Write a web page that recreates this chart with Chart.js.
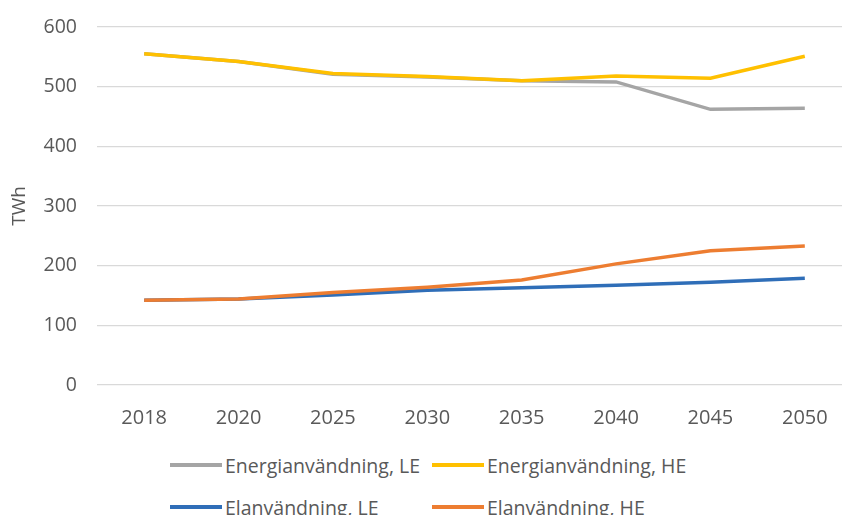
<!DOCTYPE html>
<html>
<head>
<meta charset="utf-8">
<script src="https://cdn.jsdelivr.net/npm/chart.js@4"></script>
<style>
  html, body { margin: 0; padding: 0; background: #fff; overflow: hidden; }
  body { width: 842px; height: 515px; position: relative; }
  #wrap { position: absolute; left: 0; top: 0; width: 862px; height: 430px; }
  #legend { position: absolute; left: 170px; top: 444px; font-family: "Open Sans", sans-serif; font-size: 19.5px; color: #595959; }
  .row { display: flex; height: 42px; align-items: center; }
  .item { display: flex; align-items: center; width: 262px; }
  .swatch { width: 52px; height: 4px; margin-right: 3px; }
</style>
</head>
<body>
<div id="wrap"><canvas id="chart"></canvas></div>
<div id="legend"></div>
<script>
// years on the x axis
const years = ["2018", "2020", "2025", "2030", "2035", "2040", "2045", "2050"];

// TWh per scenario
const energiLE = [555, 542, 521, 516, 510, 508, 462, 464];
const energiHE = [555, 542, 522, 517, 510, 518, 514, 551];
const elLE = [142, 144, 151, 159, 163, 167, 172, 179];
const elHE = [142, 144, 155, 164, 176, 203, 225, 233];

const seriesNames = ["Energianvändning, LE", "Energianvändning, HE", "Elanvändning, LE", "Elanvändning, HE"];
const seriesColors = ["#A5A5A5", "#FFC000", "#2F6EB8", "#ED7D31"];
// lower order is drawn on top: HE lines cover the LE lines where they overlap
const seriesOrder = [2, 1, 4, 3];

const textColor = "#595959";
const fontFamily = "'Open Sans', sans-serif";

function line(i, data) {
  return {
    label: seriesNames[i],
    data: data,
    order: seriesOrder[i],
    borderColor: seriesColors[i],
    backgroundColor: seriesColors[i],
    borderWidth: 3.5,
    pointRadius: 0,
    tension: 0,
    fill: false,
  };
}

// legend laid out in two fixed columns
function buildLegend(chart) {
  const box = document.getElementById("legend");
  box.innerHTML = "";
  const rows = [[0, 1], [2, 3]];
  rows.forEach((pair) => {
    const row = document.createElement("div");
    row.className = "row";
    pair.forEach((i) => {
      const ds = chart.data.datasets[i];
      const item = document.createElement("div");
      item.className = "item";
      const sw = document.createElement("span");
      sw.className = "swatch";
      sw.style.background = ds.borderColor;
      const txt = document.createElement("span");
      txt.textContent = ds.label;
      item.appendChild(sw);
      item.appendChild(txt);
      row.appendChild(item);
    });
    box.appendChild(row);
  });
}

let ctx = document.getElementById("chart");
let chart = new Chart(ctx, {
  type: "line",
  data: {
    labels: years,
    datasets: [line(0, energiLE), line(1, energiHE), line(2, elLE), line(3, elHE)],
  },
  options: {
    responsive: true,
    maintainAspectRatio: false,
    animation: false,
    layout: { padding: { top: 27, right: 10, left: 0, bottom: 0 } },
    plugins: {
      legend: { display: false },
      tooltip: { enabled: false },
    },
    scales: {
      x: {
        offset: true,
        grid: { display: false },
        border: { display: false },
        ticks: { color: textColor, font: { family: fontFamily, size: 20 }, padding: 13, maxRotation: 0 },
        afterFit: (scale) => { scale.height = 45; },
      },
      y: {
        min: 0,
        max: 600,
        ticks: { stepSize: 100, color: textColor, font: { family: fontFamily, size: 19.5 }, padding: 4 },
        // invisible tick marks push the labels away from the plot
        grid: { color: "#D9D9D9", lineWidth: 1.3, drawTicks: true, tickLength: 16, tickColor: "rgba(0,0,0,0)" },
        border: { display: false },
        title: {
          display: true,
          text: "TWh",
          color: textColor,
          font: { family: fontFamily, size: 19 },
          padding: { top: 8, bottom: 0 },
        },
        afterFit: (scale) => { scale.width = 97; },
      },
    },
  },
  plugins: [{ id: "htmlLegend", afterUpdate: (c) => buildLegend(c) }],
});
</script>
</body>
</html>
